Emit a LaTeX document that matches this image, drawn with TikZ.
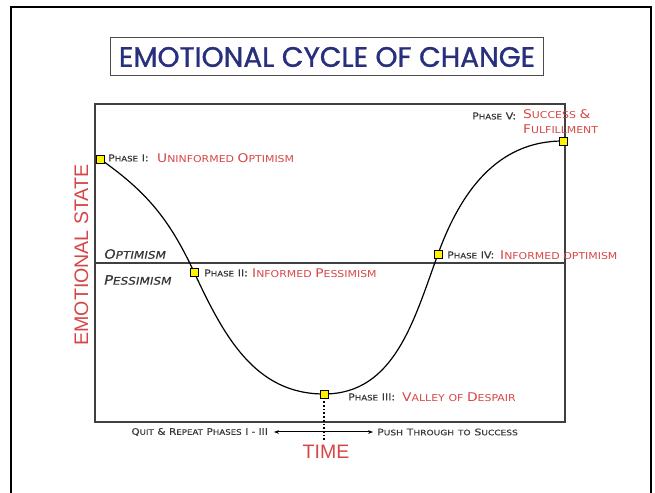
\documentclass[tikz,border=0pt]{standalone}
\usepackage{fontspec}
\usepackage{graphicx}
\setmainfont{Liberation Sans}
\newfontfamily\cpfont[FakeStretch=1.15]{DejaVu Sans}
\newfontfamily\cpbfont[FakeStretch=1.15,FakeBold=0.5]{DejaVu Sans}
\newfontfamily\cpitfont[FakeStretch=1.15,FakeSlant=0.2,FakeBold=0.5]{DejaVu Sans}
\newfontfamily\titlefont[FakeBold=1.2]{Poppins}
\usetikzlibrary{arrows.meta}
\definecolor{navy}{RGB}{40,48,125}
\definecolor{lred}{RGB}{215,70,70}
\definecolor{dgray}{RGB}{55,55,55}
\newcommand\myrsc[2]{{\fontsize{12}{12}\selectfont #1}{\fontsize{9.5}{9.5}\selectfont #2}}
\newcommand\mygsc[2]{{\fontsize{9.5}{9.5}\selectfont #1}{\fontsize{7.5}{7.5}\selectfont #2}}
\newcommand\mybsc[2]{{\fontsize{9}{9}\selectfont #1}{\fontsize{7.5}{7.5}\selectfont #2}}
\newcommand\myisc[2]{{\fontsize{13}{13}\selectfont #1}{\fontsize{10.5}{10.5}\selectfont #2}}
\tikzset{
  marker/.style={draw=black, fill=yellow, line width=0.7pt, minimum size=8pt, inner sep=0pt},
  graylab/.style={anchor=west, inner sep=0pt, text=dgray, font=\cpbfont},
  redlab/.style={anchor=west, inner sep=0pt, text=lred, font=\cpfont},
  curve/.style={line width=1.2pt, black},
  framebox/.style={line width=1.1pt, draw=black!75}
}
\begin{document}
\begin{tikzpicture}[x=1pt,y=1pt]
\useasboundingbox (0,0) rectangle (655,492);
% outer frame
\draw[line width=2pt] (11,-5) -- (11,485) -- (651,485) -- (651,-5);
% title
\node[draw=black!70, line width=1pt, minimum width=433pt, minimum height=38pt, inner sep=0pt] (title) at (327,435)
  {\resizebox{416pt}{!}{\titlefont\color{navy}EMOTIONAL CYCLE OF CHANGE}};
% plot box
\draw[framebox] (95,70) rectangle (565,388);
\coordinate (ml) at (95,229);
\coordinate (mr) at (565,229);
\draw[framebox] (ml) -- (mr);
% phase points
\coordinate (P1) at (100,333);
\coordinate (P2) at (194,220);
\coordinate (P3) at (324,98);
\coordinate (P4) at (438,238);
\coordinate (P5) at (563,351);
\draw[curve] (P1) to[out=-35,in=115] (P2) to[out=-65,in=180] (P3)
  to[out=0,in=-110] (P4) to[out=70,in=180] (P5);
% dotted line and arrow
\coordinate (dotend) at (324,50);
\draw[line width=1.7pt, dotted] (P3) -- (dotend);
\foreach \p/\n in {P1/M1,P2/M2,P3/M3,P4/M4,P5/M5} \node[marker] (\n) at (\p) {};
\coordinate (al) at (274,60);
\coordinate (ar) at (373,60);
\draw[line width=1pt, {Stealth[length=5pt]}-{Stealth[length=5pt]}] (al) -- (ar);
\node[anchor=east, inner sep=0pt, text=dgray, font=\cpbfont] (quit) at (268,60)
  {\mybsc{Q}{UIT} \mybsc{\&}{} \mybsc{R}{EPEAT} \mybsc{P}{HASES} \mybsc{I - III}{}};
\node[anchor=west, inner sep=0pt, text=dgray, font=\cpbfont] (push) at (377,60)
  {\scalebox{1.05}[1]{\mybsc{P}{USH} \mybsc{T}{HROUGH} \mybsc{}{TO} \mybsc{S}{UCCESS}}};
% axis labels
\node[text=lred, font=\fontsize{19.5}{19.5}\selectfont] (time) at (326,40) {TIME};
\node[text=lred, font=\fontsize{19.6}{19.6}\selectfont, rotate=90] (emo) at (81.5,237) {EMOTIONAL STATE};
% optimism / pessimism
\node[anchor=west, inner sep=0pt, text=dgray, font=\cpitfont] (opt) at (103,238) {\myisc{O}{PTIMISM}};
\node[anchor=west, inner sep=0pt, text=dgray, font=\cpitfont] (pes) at (103,212) {\myisc{P}{ESSIMISM}};
% phase labels
\node[graylab] (g1) at (108,334) {\mygsc{P}{HASE} \mygsc{I:}{}};
\node[redlab] (r1) at (157,334) {\myrsc{U}{NINFORMED} \myrsc{O}{PTIMISM}};
\node[graylab] (g2) at (204,219) {\mygsc{P}{HASE} \mygsc{II:}{}};
\node[redlab] (r2) at (252,219) {\myrsc{I}{NFORMED} \myrsc{P}{ESSIMISM}};
\node[graylab] (g3) at (348,95) {\mygsc{P}{HASE} \mygsc{III:}{}};
\node[redlab] (r3) at (402,95) {\myrsc{V}{ALLEY} \myrsc{}{OF} \myrsc{D}{ESPAIR}};
\node[graylab] (g4) at (447,237) {\mygsc{P}{HASE} \mygsc{IV:}{}};
\node[redlab] (r4) at (500,237) {\myrsc{I}{NFORMED} \myrsc{}{OPTIMISM}};
\node[graylab] (g5) at (472,376) {\mygsc{P}{HASE} \mygsc{V:}{}};
\node[redlab] (r5a) at (523,378) {\myrsc{S}{UCCESS} \myrsc{\&}{}};
\node[redlab] (r5b) at (523,363) {\myrsc{F}{ULFILLMENT}};
\end{tikzpicture}
\end{document}
